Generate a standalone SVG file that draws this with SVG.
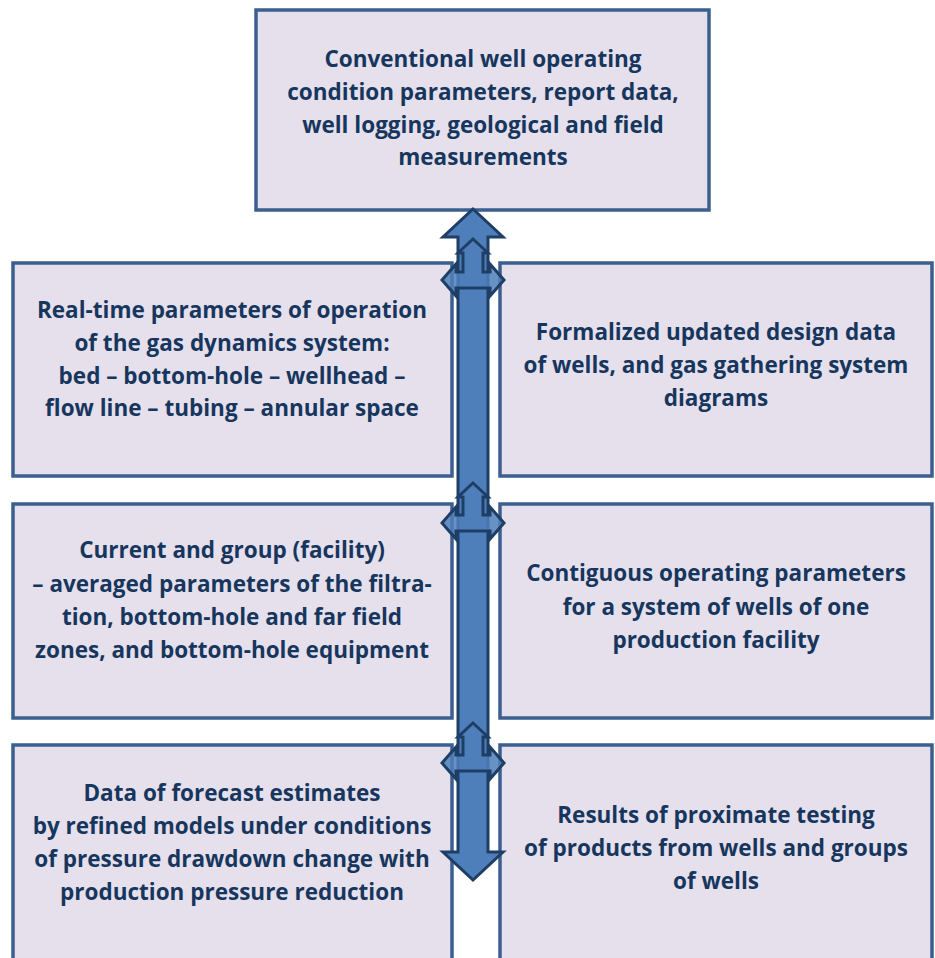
<svg xmlns="http://www.w3.org/2000/svg" width="935" height="958" viewBox="0 0 935 958">
<style>
.box{fill:#e5e0ec;stroke:#3b5f8e;stroke-width:3.5}
.t{font-family:"Open Sans","Liberation Sans",sans-serif;font-weight:700;font-size:22.5px;fill:#17365d;text-anchor:middle}
.arr{fill:#4f7fba;stroke:#1f3e66;stroke-width:3;stroke-linejoin:miter}
.tarr{fill:#4f7fba;fill-opacity:0.85;stroke:#1f3e66;stroke-width:3;stroke-linejoin:miter}
</style>
<rect width="935" height="958" fill="#ffffff"/>
<g id="top">
<rect class="box" x="256" y="10" width="453" height="200"/>
<text class="t" x="483" y="67">Conventional well operating</text>
<text class="t" x="483" y="100">condition parameters, report data,</text>
<text class="t" x="483" y="133">well logging, geological and field</text>
<text class="t" x="483" y="165">measurements</text>
</g>
<g id="left1">
<rect class="box" x="13" y="263" width="439" height="213"/>
<text class="t" x="232" y="318">Real-time parameters of operation</text>
<text class="t" x="232" y="351">of the gas dynamics system:</text>
<text class="t" x="232" y="384">bed – bottom-hole – wellhead –</text>
<text class="t" x="232" y="416">flow line – tubing – annular space</text>
</g>
<g id="right1">
<rect class="box" x="500" y="263" width="432" height="213"/>
<text class="t" x="716" y="340">Formalized updated design data</text>
<text class="t" x="716" y="373">of wells, and gas gathering system</text>
<text class="t" x="716" y="406">diagrams</text>
</g>
<g id="left2">
<rect class="box" x="13" y="504" width="439" height="214"/>
<text class="t" x="232" y="558">Current and group (facility)</text>
<text class="t" x="232" y="592">– averaged parameters of the filtra-</text>
<text class="t" x="232" y="625">tion, bottom-hole and far field</text>
<text class="t" x="232" y="658">zones, and bottom-hole equipment</text>
</g>
<g id="right2">
<rect class="box" x="500" y="504" width="432" height="214"/>
<text class="t" x="716" y="581">Contiguous operating parameters</text>
<text class="t" x="716" y="615">for a system of wells of one</text>
<text class="t" x="716" y="648">production facility</text>
</g>
<g id="left3">
<rect class="box" x="13" y="745" width="439" height="230"/>
<text class="t" x="232" y="801">Data of forecast estimates</text>
<text class="t" x="232" y="834">by refined models under conditions</text>
<text class="t" x="232" y="867">of pressure drawdown change with</text>
<text class="t" x="232" y="900">production pressure reduction</text>
</g>
<g id="right3">
<rect class="box" x="500" y="745" width="432" height="230"/>
<text class="t" x="716" y="823">Results of proximate testing</text>
<text class="t" x="716" y="856">of products from wells and groups</text>
<text class="t" x="716" y="889">of wells</text>
</g>
<g id="connectors">
<polygon class="arr" points="473,209 503,237 488,237 488,852 503,852 473,880 443,852 458,852 458,237 443,237"/>
<polygon class="tarr" points="473,239 488,253 483,253 483,272 490,272 490,264 504,280 490,296 490,288 456,288 456,296 442,280 456,264 456,272 463,272 463,253 458,253"/>
<polygon class="tarr" points="473,483 488,497 483,497 483,515 490,515 490,507 504,523 490,539 490,531 456,531 456,539 442,523 456,507 456,515 463,515 463,497 458,497"/>
<polygon class="tarr" points="473,723 488,737 483,737 483,755 490,755 490,747 504,763 490,779 490,771 456,771 456,779 442,763 456,747 456,755 463,755 463,737 458,737"/>
</g>
</svg>
